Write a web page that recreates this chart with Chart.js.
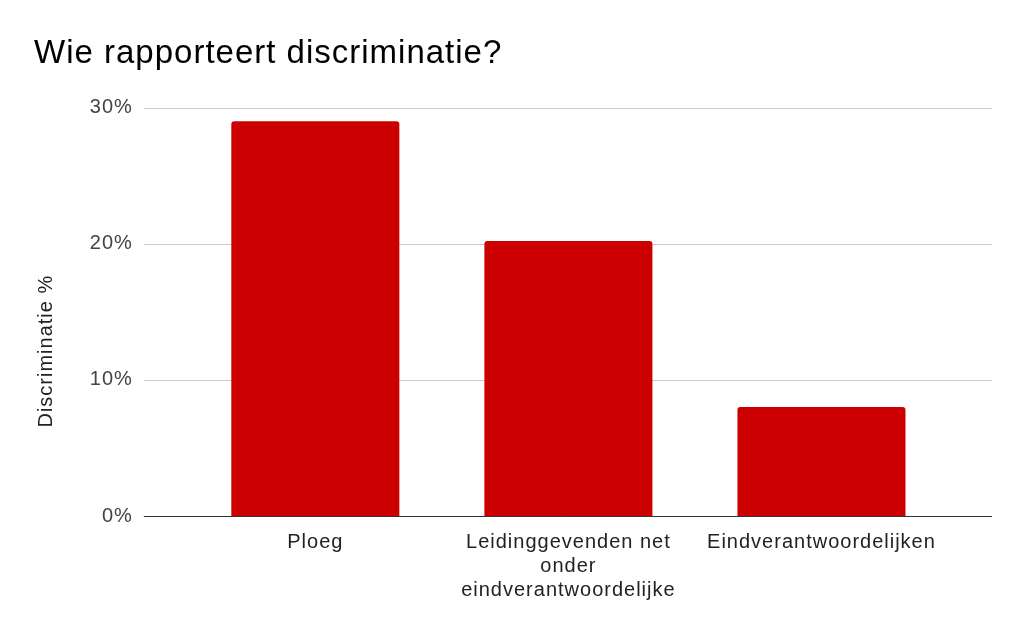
<!DOCTYPE html>
<html lang="nl">
<head>
    <meta charset="UTF-8">
    <title>Wie rapporteert discriminatie?</title>
    <script src="https://cdn.jsdelivr.net/npm/chart.js"></script>
    <style>
        html, body { margin: 0; padding: 0; background: #fff; }
        #wrap { width: 1024px; height: 634px; }
    </style>
</head>
<body>
<div id="wrap"><canvas id="chart"></canvas></div>
<script>
    // data
    const categories = [
        "Ploeg",
        ["Leidinggevenden net", "onder", "eindverantwoordelijke"],
        "Eindverantwoordelijken"
    ];
    const discriminatiePct = [29.0, 20.2, 8.0];
    const yTicks = [0, 10, 20, 30];

    const FONT = "'Liberation Sans', Arial, sans-serif";

    // gridlines in the reference run past the bar area on both sides
    const wideGrid = {
        id: "wideGrid",
        beforeLayout(chart) { chart.ctx.letterSpacing = "1px"; },
        beforeDraw(chart) { chart.ctx.letterSpacing = "1px"; },
        beforeDatasetsDraw(chart) {
            const { ctx, chartArea, scales } = chart;
            ctx.save();
            ctx.lineWidth = 1;
            yTicks.forEach(v => {
                if (v === 0) return;
                const y = Math.round(scales.y.getPixelForValue(v)) + 0.5;
                ctx.strokeStyle = "#cccccc";
                ctx.beginPath();
                ctx.moveTo(chartArea.left - 45, y);
                ctx.lineTo(chartArea.right + 44, y);
                ctx.stroke();
            });
            ctx.restore();
        },
        afterDatasetsDraw(chart) {
            const { ctx, chartArea, scales } = chart;
            const y = Math.round(scales.y.getPixelForValue(0)) + 0.5;
            ctx.save();
            ctx.strokeStyle = "#333333";
            ctx.lineWidth = 1;
            ctx.beginPath();
            ctx.moveTo(chartArea.left - 45, y);
            ctx.lineTo(chartArea.right + 44, y);
            ctx.stroke();
            ctx.restore();
        }
    };

    new Chart(document.getElementById("chart"), {
        type: "bar",
        data: {
            labels: categories,
            datasets: [{
                label: "Discriminatie %",
                data: discriminatiePct,
                backgroundColor: "#cc0000",
                borderRadius: { topLeft: 3, topRight: 3 },
                borderSkipped: "bottom",
                barPercentage: 0.664,
                categoryPercentage: 1.0
            }]
        },
        options: {
            responsive: true,
            maintainAspectRatio: false,
            animation: false,
            layout: { padding: { left: 34, right: 76, top: 0, bottom: 18 } },
            plugins: {
                legend: { display: false },
                tooltip: { enabled: false },
                title: {
                    display: true,
                    text: "Wie rapporteert discriminatie?",
                    align: "start",
                    color: "#000000",
                    font: { family: FONT, size: 33, weight: "normal" },
                    padding: { top: 34, bottom: 34 }
                }
            },
            scales: {
                x: {
                    grid: { display: false, drawTicks: false },
                    border: { display: false },
                    ticks: {
                        color: "#222222",
                        font: { family: FONT, size: 20 },
                        padding: 14,
                        maxRotation: 0,
                        autoSkip: false
                    }
                },
                y: {
                    min: 0,
                    max: 30,
                    afterBuildTicks(scale) {
                        scale.ticks = yTicks.map(v => ({ value: v }));
                    },
                    afterFit(scale) { scale.width = 154.8; },
                    grid: { display: false, drawTicks: false },
                    border: { display: false },
                    ticks: {
                        color: "#444444",
                        font: { family: FONT, size: 20 },
                        padding: 56,
                        callback: v => v + "%"
                    },
                    title: {
                        display: true,
                        // trailing spaces push the label down, as in the reference
                        text: "Discriminatie %            ",
                        color: "#222222",
                        font: { family: FONT, size: 20 },
                        padding: { top: 0, bottom: 0 }
                    }
                }
            }
        },
        plugins: [wideGrid]
    });
</script>
</body>
</html>
